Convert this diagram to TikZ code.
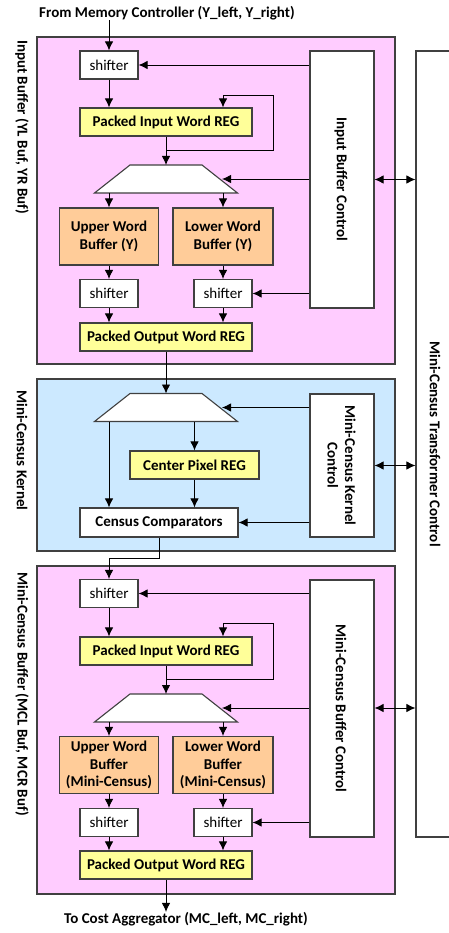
\documentclass[tikz,border=0pt]{standalone}
\usepackage{fontspec}
\setmainfont{Carlito}
\usetikzlibrary{arrows.meta,calc}
\definecolor{pinkbg}{HTML}{FFCCFF}
\definecolor{bluebg}{HTML}{CCE9FF}
\definecolor{regyellow}{HTML}{FFFF99}
\definecolor{buforange}{HTML}{FFCC99}
\definecolor{boxline}{HTML}{404040}
\newcommand\muxshape[3]{%
  \draw[box, fill=white] (#2-36,#3-14) -- (#2+36,#3-14) -- (#2+71.5,#3+14) -- (#2-71.5,#3+14) -- cycle;
  \coordinate (#1-n) at (#2,#3-14);
  \coordinate (#1-s) at (#2,#3+14);
  \coordinate (#1-e) at (#2+56,#3);
}
\begin{document}
\begin{tikzpicture}[x=1pt,y=-1pt,
  font=\fontsize{15}{17.5}\selectfont\bfseries,
  box/.style={draw=boxline, line width=1.1pt, inner sep=0pt, align=center},
  container/.style={box},
  shiftbox/.style={box, fill=white, minimum width=58, minimum height=28, font=\fontsize{15}{17.5}\selectfont},
  regbox/.style={box, fill=regyellow, minimum width=172, minimum height=28},
  bufbox/.style={box, fill=buforange, minimum width=100, minimum height=57},
  ctrlbox/.style={box, fill=white, minimum width=64},
  lbl/.style={inner sep=0pt, align=center},
  arr/.style={draw=black, line width=0.9pt, -{Latex[length=9pt,width=8.5pt]}},
  dblarr/.style={draw=black, line width=0.9pt, {Latex[length=9pt,width=8.5pt]}-{Latex[length=9pt,width=8.5pt]}}
]
\useasboundingbox (0,0) rectangle (448,933);

% containers
\node[container, fill=pinkbg, minimum width=358, minimum height=327] (ibuf) at (216,200.5) {};
\node[container, fill=bluebg, minimum width=358, minimum height=172] (kern) at (216,465) {};
\node[container, fill=pinkbg, minimum width=358, minimum height=328] (mcbuf) at (216,730) {};
\node[box, fill=white, minimum width=60, minimum height=786] (mct) at (446,444) {};
\node[lbl, rotate=-90] at (435,444) {Mini-Census Transformer Control};

% side labels
\node[lbl, rotate=-90, anchor=west] at (22,40) {Input Buffer (YL Buf, YR Buf)};
\node[lbl, rotate=-90, anchor=west] at (22,390) {Mini-Census Kernel};
\node[lbl, rotate=-90, anchor=west] at (22,572) {Mini-Census Buffer (MCL Buf, MCR Buf)};

% top / bottom labels
\node[lbl] (from) at (167,13) {From Memory Controller (Y\_left, Y\_right)};
\node[lbl] (to) at (186,919) {To Cost Aggregator (MC\_left, MC\_right)};

% ---------- Input buffer ----------
\node[shiftbox] (sh1) at (109,65) {shifter};
\node[regbox] (piw1) at (166,122) {Packed Input Word REG};
\muxshape{mux1}{166}{179}
\node[bufbox, minimum width=99] (upw1) at (109,236.5) {Upper Word\\Buffer (Y)};
\node[bufbox] (lwb1) at (223,236.5) {Lower Word\\Buffer (Y)};
\node[shiftbox] (sh2) at (109,293.5) {shifter};
\node[shiftbox] (sh3) at (223,293.5) {shifter};
\node[regbox] (pow1) at (166,337) {Packed Output Word REG};
\node[ctrlbox, minimum height=257] (ctrl1) at (342,179.5) {};
\node[lbl, rotate=-90] at (341,179.5) {Input Buffer Control};
\coordinate (lp1) at (273,95);

% ---------- Kernel ----------
\muxshape{mux2}{166}{407.5}
\node[regbox, minimum width=129] (cpr) at (194.5,465) {Center Pixel REG};
\node[box, fill=white, minimum width=158, minimum height=29] (cc) at (159,522.5) {Census Comparators};
\node[ctrlbox, minimum height=143] (ctrl2) at (342,465.5) {};
\node[lbl, rotate=-90] at (341.5,465.5) {Mini-Census Kernel\\Control};

% ---------- Mini-Census buffer ----------
\node[shiftbox] (sh4) at (109,593.5) {shifter};
\node[regbox] (piw3) at (166,651) {Packed Input Word REG};
\muxshape{mux3}{166}{708}
\node[bufbox, minimum width=99] (upw3) at (109,765) {Upper Word\\Buffer\\(Mini-Census)};
\node[bufbox] (lwb3) at (223,765) {Lower Word\\Buffer\\(Mini-Census)};
\node[shiftbox] (sh5) at (109,822.5) {shifter};
\node[shiftbox] (sh6) at (223,822.5) {shifter};
\node[regbox] (pow3) at (166,865) {Packed Output Word REG};
\node[ctrlbox, minimum height=257] (ctrl3) at (342,708.5) {};
\node[lbl, rotate=-90] at (341,708.5) {Mini-Census Buffer Control};
\coordinate (lp3) at (273,623);

% ---------- connectors: input buffer ----------
\draw[arr] (from.south -| sh1) -- (sh1.north);
\draw[arr] (ctrl1.west |- sh1.east) -- (sh1.east);
\draw[arr] (sh1.south) -- (sh1.south |- piw1.north);
\draw[arr] (piw1.south) -- (mux1-n);
\draw[arr] ($(piw1.south)!0.5!(mux1-n)$) -| (lp1) -| ([xshift=57pt]piw1.north);
\draw[arr] (ctrl1.west |- mux1-e) -- (mux1-e);
\draw[arr] (mux1-s -| upw1) -- (upw1.north);
\draw[arr] (mux1-s -| lwb1) -- (lwb1.north);
\draw[arr] (upw1.south) -- (sh2.north);
\draw[arr] (lwb1.south) -- (sh3.north);
\draw[arr] (ctrl1.west |- sh3.east) -- (sh3.east);
\draw[arr] (sh2.south) -- (sh2.south |- pow1.north);
\draw[arr] (sh3.south) -- (sh3.south |- pow1.north);
\draw[dblarr] (ctrl1.east) -- (ctrl1.east -| mct.west);

% ---------- connectors: kernel ----------
\draw[arr] (pow1.south) -- (mux2-n);
\draw[arr] (ctrl2.west |- mux2-e) -- (mux2-e);
\draw[arr] ([xshift=-57pt]mux2-s) -- ([xshift=-57pt]mux2-s |- cc.north);
\draw[arr] (mux2-s -| cpr) -- (cpr.north);
\draw[arr] (cpr.south) -- (cpr.south |- cc.north);
\draw[arr] (ctrl2.west |- cc.east) -- (cc.east);
\draw[dblarr] (ctrl2.east) -- (ctrl2.east -| mct.west);
\coordinate (ccmid) at ($(cc.south)!0.5!(sh4.north)$);
\draw[arr] (cc.south) -- (cc.south |- ccmid) -| (sh4.north);

% ---------- connectors: mini-census buffer ----------
\draw[arr] (ctrl3.west |- sh4.east) -- (sh4.east);
\draw[arr] (sh4.south) -- (sh4.south |- piw3.north);
\draw[arr] (piw3.south) -- (mux3-n);
\draw[arr] ($(piw3.south)!0.5!(mux3-n)$) -| (lp3) -| ([xshift=57pt]piw3.north);
\draw[arr] (ctrl3.west |- mux3-e) -- (mux3-e);
\draw[arr] (mux3-s -| upw3) -- (upw3.north);
\draw[arr] (mux3-s -| lwb3) -- (lwb3.north);
\draw[arr] (upw3.south) -- (sh5.north);
\draw[arr] (lwb3.south) -- (sh6.north);
\draw[arr] (ctrl3.west |- sh6.east) -- (sh6.east);
\draw[arr] (sh5.south) -- (sh5.south |- pow3.north);
\draw[arr] (sh6.south) -- (sh6.south |- pow3.north);
\draw[dblarr] (ctrl3.east |- mux3-e) -- (mct.west |- mux3-e);
\draw[arr] (pow3.south) -- (pow3.south |- to.north);
\end{tikzpicture}
\end{document}
